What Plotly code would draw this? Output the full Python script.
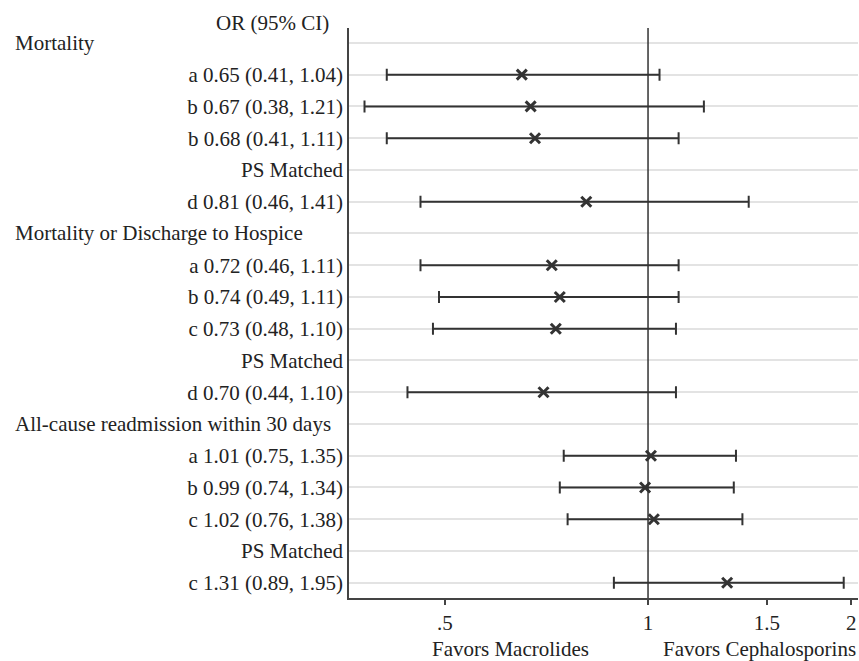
import plotly.graph_objects as go

# ---- data ----
rows = [
    ("H", "Mortality"),
    ("E", "a"), ("E", "b"), ("E", "b"), ("S", "PS Matched"), ("E", "d"),
    ("H", "Mortality or Discharge to Hospice"),
    ("E", "a"), ("E", "b"), ("E", "c"), ("S", "PS Matched"), ("E", "d"),
    ("H", "All-cause readmission within 30 days"),
    ("E", "a"), ("E", "b"), ("E", "c"), ("S", "PS Matched"), ("E", "c"),
]
estimates = [0.65, 0.67, 0.68, 0.81, 0.72, 0.74, 0.73, 0.70, 1.01, 0.99, 1.02, 1.31]
lower = [0.41, 0.38, 0.41, 0.46, 0.46, 0.49, 0.48, 0.44, 0.75, 0.74, 0.76, 0.89]
upper = [1.04, 1.21, 1.11, 1.41, 1.11, 1.11, 1.10, 1.10, 1.35, 1.34, 1.38, 1.95]
x_tickvals = [0.5, 1, 1.5, 2]
x_ticktext = [".5", "1", "1.5", "2"]

FONT = "Liberation Serif"
TXT = "#222222"
FS = 21

est_rows, ticktext, header_rows = [], [], []
k = 0
for i, (kind, t) in enumerate(rows):
    if kind == "E":
        est_rows.append(i)
        ticktext.append(f"{t} {estimates[k]:.2f} ({lower[k]:.2f}, {upper[k]:.2f})")
        k += 1
    elif kind == "S":
        ticktext.append(t)
    else:
        ticktext.append("")
        header_rows.append((i, t))

fig = go.Figure()
fig.add_trace(go.Scatter(
    x=estimates, y=est_rows, mode="markers",
    marker=dict(symbol="x-thin", size=10, color="#333333", line=dict(width=3, color="#333333")),
    error_x=dict(type="data", symmetric=False,
                 array=[u - e for u, e in zip(upper, estimates)],
                 arrayminus=[e - l for e, l in zip(estimates, lower)],
                 color="#333333", thickness=2, width=6),
    showlegend=False, hoverinfo="skip",
))

fig.add_shape(type="line", xref="x", yref="paper", x0=1, x1=1, y0=0, y1=1,
              line=dict(color="#333333", width=1.5))

# body margin is removed by post_script, so figure coords = screen coords
W, H = 859, 661
L, R, T = 349, 1, 28
B = H - 598
pw = W - L - R
ph = H - T - B

def px_x(sx):
    return (sx - L) / pw

def px_y(sy):
    return 1 - (sy - T) / ph

annotations = []
for i, t in header_rows:
    annotations.append(dict(text=t, xref="paper", yref="y", x=px_x(13), y=i,
                            xanchor="left", yanchor="middle", showarrow=False,
                            font=dict(family=FONT, size=FS, color=TXT)))
annotations.append(dict(text="OR (95% CI)", xref="paper", yref="paper",
                        x=px_x(331), y=px_y(23), xanchor="right", yanchor="middle",
                        showarrow=False, font=dict(family=FONT, size=FS, color=TXT)))
annotations.append(dict(text="Favors Macrolides", xref="paper", yref="paper",
                        x=px_x(510), y=px_y(649), xanchor="center", yanchor="middle",
                        showarrow=False, font=dict(family=FONT, size=FS, color=TXT)))
annotations.append(dict(text="Favors Cephalosporins", xref="paper", yref="paper",
                        x=px_x(759), y=px_y(649), xanchor="center", yanchor="middle",
                        showarrow=False, font=dict(family=FONT, size=FS, color=TXT)))

fig.update_layout(
    width=W, height=H,
    margin=dict(l=L, r=R, t=T, b=B),
    paper_bgcolor="white", plot_bgcolor="white",
    font=dict(family=FONT, size=FS, color=TXT),
    annotations=annotations,
    xaxis=dict(type="log", range=[-0.4432, 0.3112],
               tickvals=x_tickvals, ticktext=x_ticktext,
               ticks="outside", ticklen=5, tickwidth=1.5, tickcolor="#444444",
               showline=True, linecolor="#444444", linewidth=1.5,
               showgrid=False, zeroline=False, tickfont=dict(size=FS),
               automargin=False),
    yaxis=dict(range=[17.48, -0.47], tickvals=list(range(len(rows))), ticktext=ticktext,
               showline=True, linecolor="#444444", linewidth=1.5,
               showgrid=True, gridcolor="#e3e3e3", gridwidth=2,
               ticks="", zeroline=False, tickfont=dict(size=FS), automargin=False),
)

fig.write_html(
    "out.html",
    config={"displayModeBar": False},
    post_script="document.body.style.margin='0';document.body.style.overflow='hidden';",
)
